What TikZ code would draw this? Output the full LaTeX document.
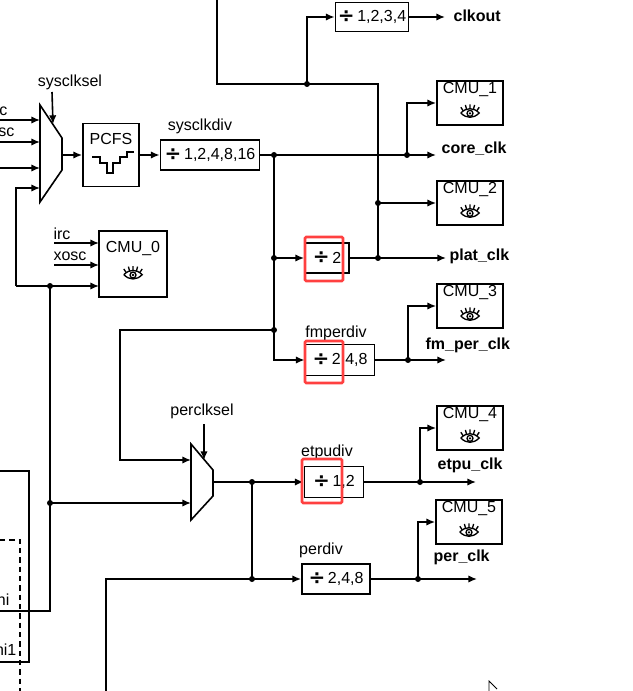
\documentclass[tikz,border=0pt]{standalone}
\usepackage{fontspec}
\setmainfont{Liberation Sans}
\newfontfamily\djv{DejaVu Sans}
\usetikzlibrary{arrows.meta}
\tikzset{
  w/.style={line width=1.2pt},
  a/.style={w,-{Latex[length=6.5pt,width=5.5pt]}},
  bx/.style n args={2}{draw,line width=1.3pt,minimum width=#1*0.75pt,minimum height=#2*0.75pt,inner sep=0pt,font=\fontsize{12}{14}\selectfont},
  lb/.style={font=\fontsize{12}{14}\selectfont,inner sep=1pt},
  bl/.style={font=\fontsize{12}{14}\selectfont\bfseries,inner sep=1pt,anchor=west},
  dot/.style={circle,fill,inner sep=0pt,minimum size=4.5pt},
  hl/.style={draw=red!75,line width=2pt,rounded corners=1pt},
  eye/.pic={\begin{scope}[scale=1.15]\draw[line width=1pt] (-8,0) .. controls (-3,-5) and (3,-5) .. (8,0) .. controls (3,5) and (-3,5) .. (-8,0);
    \draw[line width=1pt] (0,0.3) circle[radius=2.6];
    \fill (0,0.3) circle[radius=1.1];
    \draw[line width=1pt] (-6,-2)--(-8,-5) (-3,-3.3)--(-4,-7) (0,-3.7)--(0,-7.5) (3,-3.3)--(4,-7) (6,-2)--(8,-5);\end{scope}}
}
\newcommand\dv{\raisebox{-0.5pt}{\djv\bfseries\fontsize{15}{15}\selectfont ÷}\,}
\begin{document}
\begin{tikzpicture}[x=0.75pt,y=-0.75pt]
\useasboundingbox (0,0) rectangle (632,691);
% boxes
\node[bx={73}{29}] (cdiv) at (372,17) {\dv 1,2,3,4};
\node[bx={56}{63}] (pcfs) at (111,155) {};
\node[lb] at (111,139) {PCFS};
\draw[line width=1pt] (92,157)--(100,157)--(100,163)--(107,163)--(107,173)--(113,173)--(113,163)--(120,163)--(120,157)--(127,157)--(127,152)--(134,152);
\node[bx={99}{30}] (sdiv) at (210,155) {\dv 1,2,4,8,16};
\node[lb] at (200,126) {sysclkdiv};
\node[bx={44}{30}] (d2) at (327,258) {\dv 2\hspace{4pt}};
\node[bx={69}{31}] (fdiv) at (340,360) {\dv 2,4,8};
\node[lb] at (336,333) {fmperdiv};
\node[bx={59}{31}] (ediv) at (334,482) {\dv 1,2};
\node[lb] at (327,452) {etpudiv};
\node[bx={68}{30}] (pdiv) at (336,579) {\dv 2,4,8};
\node[lb] at (321,550) {perdiv};
\foreach \n/\x/\y/\t in {cmu1/470/103/1,cmu2/470/203/2,cmu3/470/306/3,cmu4/470/428/4,cmu5/469/522/5}{
  \node[bx={66}{44}] (\n) at (\x,\y) {};
  \node[lb,anchor=north] at ([yshift=-0.5pt]\n.north) {CMU\_\t};
  \pic at ([yshift=-7.5pt]\n.center) {eye};
}
\node[bx={68}{66}] (cmu0) at (133,264) {};
\node[lb,anchor=north] at ([yshift=-7pt]cmu0.north) {CMU\_0};
\pic at ([yshift=-8pt]cmu0.center) {eye};
% muxes
\draw[w] (40,105)--(62,138)--(62,170)--(40,202)--cycle;
\draw[w] (191,444)--(213,470)--(213,496)--(191,520)--cycle;
\node[lb] (ssel) at (70,82) {sysclksel};
\draw[a] (52,92)--(53,124);
\node[lb] (psel) at (202,411) {perclksel};
\draw[a] (204,424)--(204,460);
% sys mux inputs
\node[lb,anchor=west] at (-11,110) {irc};
\node[lb,anchor=west] at (-20,132) {xosc};
\draw[a] (0,120)--(40,120);
\draw[a] (0,142)--(40,142);
\draw[a] (0,168)--(40,168);
\draw[a] (16,286)--(16,188)--(40,188);
\draw[a] (62,155)--(pcfs.west);
\draw[a] (pcfs.east)--(sdiv.west);
% cmu0 inputs
\node[lb,anchor=west] at (52,234) {irc};
\node[lb,anchor=west] at (52,256) {xosc};
\draw[a] (54,243)--(99,243);
\draw[a] (54,265)--(99,265);
\draw[a] (16,286)--(99,286);
\node[dot] at (50,286) {};
\draw[w] (50,286)--(50,611)--(0,611);
\node[dot] at (50,503) {};
\draw[a] (50,503)--(191,503);
% top
\draw[w] (217,0)--(217,84)--(378,84)--(378,258);
\node[dot] at (307,84) {};
\draw[a] (307,84)--(307,17)--(cdiv.west);
\draw[a] (cdiv.east)--(445,17);
\node[bl] at (452,16) {clkout};
% core
\draw[a] (sdiv.east)--(436,155);
\node[dot] at (274,155) {};
\node[dot] at (407,155) {};
\draw[a] (407,155)--(407,103)--(cmu1.west);
\node[bl] at (440,149) {core\_clk};
\draw[w] (274,155)--(274,358);
\node[dot] at (274,258) {};
\draw[a] (274,258)--(d2.west);
\draw[a] (d2.east)--(446,258);
\node[dot] at (378,258) {};
\node[dot] at (378,203) {};
\draw[a] (378,203)--(cmu2.west);
\node[bl] at (448,256) {plat\_clk};
\node[dot] at (274,330) {};
\draw[a] (274,330)--(120,330)--(120,460)--(191,460);
\draw[a] (274,330)--(274,360)--(fdiv.west);
\draw[a] (fdiv.east)--(446,360);
\node[dot] at (408,360) {};
\draw[a] (408,360)--(408,306)--(cmu3.west);
\node[bl] at (424,345) {fm\_per\_clk};
% per
\draw[a] (213,482)--(ediv.west);
\node[dot] at (252,482) {};
\draw[a] (ediv.east)--(476,482);
\node[dot] at (420,482) {};
\draw[a] (420,482)--(420,428)--(cmu4.west);
\node[bl] at (436,465) {etpu\_clk};
\draw[w] (252,482)--(252,579);
\node[dot] at (252,579) {};
\draw[a] (106,691)--(106,579)--(pdiv.west);
\draw[a] (pdiv.east)--(477,579);
\node[dot] at (418,579) {};
\draw[a] (418,579)--(418,522)--(cmu5.west);
\node[bl] at (432,557) {per\_clk};
% left box
\draw[w] (-5,471) rectangle (29,662);
\draw[line width=1pt,dash pattern=on 4pt off 3pt] (0,540)--(20,540)--(20,691);
\node[lb,anchor=east] at (11,600) {ni};
\node[lb,anchor=east] at (18,650) {ni1};
% cursor
\draw[line width=0.6pt] (489,691)--(489,681)--(497,689);
% highlights
\draw[hl] (305,237) rectangle (343,281);
\draw[hl] (305,341) rectangle (343,383);
\draw[hl] (302,459) rectangle (342,503);
\end{tikzpicture}
\end{document}
